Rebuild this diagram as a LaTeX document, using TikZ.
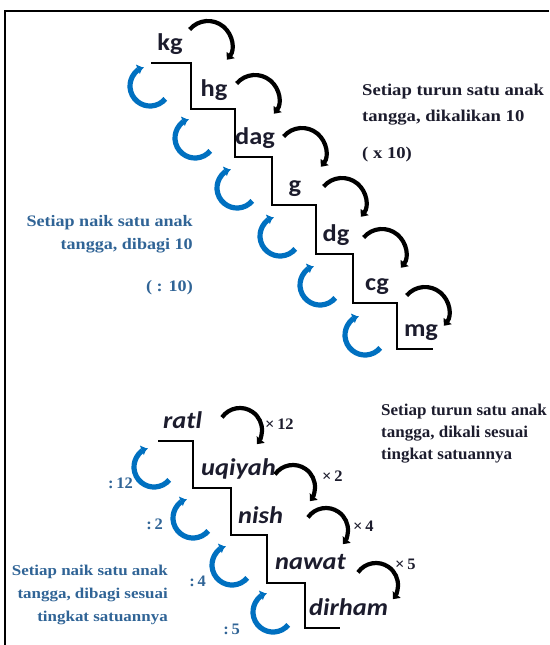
\documentclass[tikz,border=0pt]{standalone}
\usepackage{fontspec}
\setmainfont{Liberation Serif}
\newfontfamily\notefont[FakeStretch=1.13]{Liberation Serif}
\newfontfamily\notefontn[FakeStretch=1.03]{Liberation Serif}
\newfontfamily\unitfont[FakeStretch=1.1]{Carlito}
\usetikzlibrary{arrows.meta}
\definecolor{arcblue}{RGB}{0,112,192}
\definecolor{txtblue}{RGB}{48,100,150}
\definecolor{txtdark}{RGB}{28,28,45}
\begin{document}
\begin{tikzpicture}[x=1pt,y=1pt,
  stair/.style={line width=1.4pt, line join=miter},
  downarc/.style={line width=4.2pt, -{Triangle[width=10pt,length=6pt]}},
  uparc/.style={line width=5.2pt, arcblue, -{Triangle[width=10pt,length=5pt]}},
  unit/.style={font=\unitfont\bfseries\fontsize{24}{24}\selectfont, text=txtdark, inner sep=0pt, anchor=base},
  iunit/.style={font=\unitfont\bfseries\itshape\fontsize{24}{24}\selectfont, text=txtdark, inner sep=0pt, anchor=base west},
  darknote/.style={font=\notefont\bfseries\fontsize{16.5}{16.5}\selectfont, text=txtdark, inner sep=0pt},
  darknoten/.style={font=\notefontn\bfseries\fontsize{16.5}{16.5}\selectfont, text=txtdark, inner sep=0pt},
  bluenote/.style={font=\notefont\bfseries\fontsize{16}{16}\selectfont, text=txtblue, inner sep=0pt},
  bluenotes/.style={font=\notefont\bfseries\fontsize{15}{15}\selectfont, text=txtblue, inner sep=0pt},
  factor/.style={font=\notefontn\bfseries\fontsize{16}{16}\selectfont, text=txtdark, inner sep=0pt, anchor=base west},
  divisor/.style={font=\notefontn\bfseries\fontsize{16}{16}\selectfont, text=txtblue, inner sep=0pt, anchor=base east},
]
\useasboundingbox (0,0) rectangle (549,-645);
% frame
\draw[line width=1.5pt] (549,-11) -- (5,-11) -- (5,-645);

% ---------- upper staircase ----------
\coordinate (t0) at (151,-63);
\draw[stair] (t0) -- (191,-63) -- (191,-109) -- (235,-109) -- (235,-157) -- (272,-157)
  -- (272,-205) -- (316,-205) -- (316,-254) -- (353,-254) -- (353,-303) -- (397,-303)
  -- (397,-349) -- (433,-349);

\node[unit] (kg)  at (170,-50)  {kg};
\node[unit] (hg)  at (214,-96)  {hg};
\node[unit] (dag) at (255,-144) {dag};
\node[unit] (g)   at (295,-192) {g};
\node[unit] (dg)  at (336,-241) {dg};
\node[unit] (cg)  at (377,-290) {cg};
\node[unit] (mg)  at (421,-336) {mg};

% black arcs (down = multiply)
\foreach \n/\cx/\cy in {b1/208/45, b2/255/99, b3/302/152, b4/342/202, b5/382/253, b6/425/311}{
  \coordinate (\n) at (\cx,-\cy);
  \draw[downarc] ([shift={(140:24)}]\n) arc[start angle=140, end angle=-38, radius=24];
}
% blue arcs (up = divide)
\foreach \n/\cx/\cy in {u1/150/86, u2/195/138, u3/237/188, u4/280/236, u5/320/285, u6/365/335}{
  \coordinate (\n) at (\cx,-\cy);
  \draw[uparc] ([shift={(-40:20)}]\n) arc[start angle=-40, end angle=-248, radius=20];
}

\node[darknote, anchor=base west] (tr1) at (362,-95)  {Setiap turun satu anak};
\node[darknote, anchor=base west] (tr2) at (362,-121) {tangga, dikalikan 10};
\node[darknote, anchor=base west] (tr3) at (362,-158) {( x 10)};

\node[bluenote, anchor=base east] (tl1) at (193,-226) {Setiap naik satu anak};
\node[bluenote, anchor=base east] (tl2) at (193,-249) {tangga, dibagi 10};
\node[bluenote, anchor=base east] (tl3) at (193,-291) {( : 10)};

% ---------- lower staircase ----------
\coordinate (r0) at (158,-441);
\draw[stair] (r0) -- (193,-441) -- (193,-488) -- (231,-488) -- (231,-535) -- (267,-535)
  -- (267,-583) -- (305,-583) -- (305,-628) -- (340,-628);

\node[iunit] (ratl)   at (163,-428) {ratl};
\node[iunit] (uqiyah) at (201,-475) {uqiyah};
\node[iunit] (nish)   at (238,-523) {nish};
\node[iunit] (nawat)  at (275,-569) {nawat};
\node[iunit] (dirham) at (309,-615) {dirham};

\foreach \n/\cx/\cy in {c1/240/430, c2/293/487, c3/326/530, c4/376/585}{
  \coordinate (\n) at (\cx,-\cy);
  \draw[downarc] ([shift={(145:22)}]\n) arc[start angle=145, end angle=-40, radius=22];
}
\foreach \n/\cx/\cy in {d1/154/467, d2/193/518, d3/232/565, d4/273/612}{
  \coordinate (\n) at (\cx,-\cy);
  \draw[uparc] ([shift={(-40:20)}]\n) arc[start angle=-40, end angle=-248, radius=20];
}

\node[factor] (m1) at (265,-429) {×\,12};
\node[factor] (m2) at (322,-481) {×\,2};
\node[factor] (m3) at (353,-531) {×\,4};
\node[factor] (m4) at (395,-569) {×\,5};

\node[divisor] (q1) at (133,-488) {:\,12};
\node[divisor] (q2) at (163,-529) {:\,2};
\node[divisor] (q3) at (206,-586) {:\,4};
\node[divisor] (q4) at (240,-634) {:\,5};

\node[darknoten, anchor=base west] (br1) at (381,-415) {Setiap turun satu anak};
\node[darknoten, anchor=base west] (br2) at (381,-437) {tangga, dikali sesuai};
\node[darknoten, anchor=base west] (br3) at (381,-459) {tingkat satuannya};

\node[bluenotes, anchor=base east] (bl1) at (168,-575) {Setiap naik satu anak};
\node[bluenotes, anchor=base east] (bl2) at (168,-598) {tangga, dibagi sesuai};
\node[bluenotes, anchor=base east] (bl3) at (168,-621) {tingkat satuannya};
\end{tikzpicture}
\end{document}
